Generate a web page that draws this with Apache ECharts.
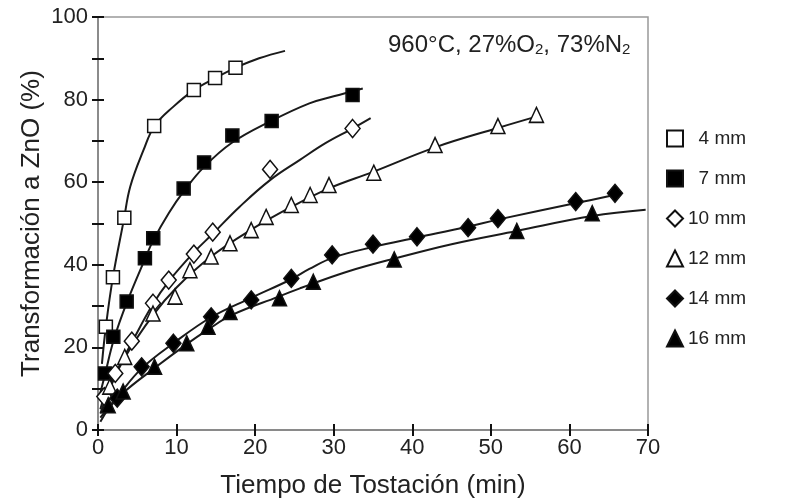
<!DOCTYPE html>
<html><head><meta charset="utf-8">
<script src="https://cdn.jsdelivr.net/npm/echarts@6/dist/echarts.min.js"></script>
<style>html,body{margin:0;padding:0;background:#fff}#c{width:812px;height:504px}</style>
</head><body><div id="c"></div>
<script>
// measured points [time (min), transformation (%)]
var pts4 = [[1,25],[1.9,37],[3.35,51.4],[7.15,73.6],[12.2,82.3],[14.9,85.2],[17.5,87.7]];
var pts7 = [[0.9,13.7],[1.95,22.6],[3.65,31.1],[5.97,41.6],[7.03,46.4],[10.9,58.5],[13.5,64.8],[17.1,71.3],[22.1,74.8],[32.4,81.1]];
var pts10 = [[0.8,8.1],[2.2,13.7],[4.3,21.5],[7.0,30.7],[9.0,36.3],[12.2,42.6],[14.6,47.9],[21.9,63.1],[32.4,73]];
var pts12 = [[1.5,10.5],[3.4,17.7],[7.0,28.2],[9.8,32.3],[11.7,38.7],[14.4,42],[16.8,45.2],[19.5,48.4],[21.4,51.6],[24.6,54.5],[27.0,56.9],[29.4,59.3],[35.1,62.3],[42.9,69],[50.9,73.6],[55.8,76.3]];
var pts14 = [[2.45,7.7],[5.55,15.3],[9.6,21],[14.4,27.4],[19.5,31.5],[24.6,36.7],[29.8,42.4],[35,45],[40.6,46.8],[47.1,49],[50.9,51.2],[60.8,55.3],[65.8,57.3]];
var pts16 = [[1.3,6],[3.2,9.3],[7.2,15.3],[11.3,21],[14.0,25],[16.8,28.6],[23.1,31.9],[27.4,35.9],[37.7,41.3],[53.3,48.2],[62.9,52.5]];
// fitted curves
var fit4 = [[0.5,16],[1,25],[1.9,37],[3.3,51],[4.1,58.9],[5.8,67.8],[7.2,73.6],[9.6,78.3],[12.2,82.3],[15,85.3],[17.5,87.7],[20.5,90],[23.8,91.8]];
var fit7 = [[0.3,9],[0.9,13.5],[2,21.8],[3.7,31],[6,41.5],[7,45.8],[9,52.5],[11,58],[13.5,63.7],[17,69.5],[22,74.8],[26.9,79.1],[30,80.8],[33.7,82.7]];
var fit10 = [[0.3,5],[0.8,8],[2.2,13.6],[4.3,21.2],[7,30.5],[9,36],[12.2,43],[14.6,47.5],[18,54],[21.9,60.5],[25.7,65.4],[29,69.5],[32.4,73],[34.7,75.5]];
var fit12 = [[0.3,4],[1.5,10],[3.4,17.5],[7,27.8],[10,34.5],[14.4,42],[19.5,48.5],[24.6,54],[29.4,58.5],[35,62.5],[43,68.5],[51,73.2],[56,76]];
var fit14 = [[0.3,3],[2.45,8],[5.5,14.8],[9.6,21],[14.4,27.3],[19.5,32],[24.6,36.5],[26.9,39],[30,41.8],[35,44.3],[40.6,46.6],[47,49.2],[51,51],[61,55],[66,57]];
var fit16 = [[0.3,2],[1.3,5],[3.2,9],[7.2,15],[11.3,20.8],[14,24.3],[17,27.8],[23,32.3],[25.7,34.3],[27.4,35.5],[32,38.5],[37.7,41.5],[45,45],[53.3,48.2],[62.9,51.8],[69.7,53.3]];
var names = ['4 mm','7 mm','10 mm','12 mm','14 mm','16 mm'];
var xTicks = [0,70,10];
var yTicks = [0,100,10];

var ptsAll = [pts4,pts7,pts10,pts12,pts14,pts16];
var fitAll = [fit4,fit7,fit10,fit12,fit14,fit16];
var sym = ['rect','rect','diamond','triangle','diamond','triangle'];
var fill = ['#fff','#000','#fff','#fff','#000','#000'];
var sz = [[13,13],[13,13],[15,18],[14,15],[15,18],[14,15]];
var series = [];
fitAll.forEach(function(d,i){
  series.push({type:'line',name:'fit'+i,data:d,smooth:0.4,symbol:'none',silent:true,
    lineStyle:{color:'#1a1a1a',width:2},z:2});
});
ptsAll.forEach(function(d,i){
  series.push({type:'scatter',name:names[i],data:d,symbol:sym[i],symbolSize:sz[i],
    itemStyle:{color:fill[i],borderColor:'#111',borderWidth:1.5,opacity:1},z:5});
});
var font = '"Liberation Sans", Arial, sans-serif';
function xa(inside,showLab){
  return {type:'value',min:xTicks[0],max:xTicks[1],interval:xTicks[2],position:'bottom',
    axisLine:{show:true,onZero:false,lineStyle:{color:'#888',width:1.5}},
    axisTick:{show:true,inside:inside,length:6,lineStyle:{color:'#111',width:2}},
    axisLabel:{show:showLab,fontSize:22,color:'#222',fontFamily:font,margin:7},
    splitLine:{show:false},
    name: showLab?'Tiempo de Tostación (min)':'',nameLocation:'middle',nameGap:43,nameMoveOverlap:false,
    nameTextStyle:{fontSize:26,color:'#222',fontFamily:font}};
}
function ya(inside,showLab){
  return {type:'value',min:yTicks[0],max:yTicks[1],interval:yTicks[2],position:'left',
    axisLine:{show:true,onZero:false,lineStyle:{color:'#888',width:1.5}},
    axisTick:{show:true,inside:inside,length:6,lineStyle:{color:'#111',width:2}},
    axisLabel:{show:showLab,fontSize:22,color:'#222',fontFamily:font,margin:10,
      formatter:function(v){return v%20===0?String(v):'';}},
    splitLine:{show:false},
    name: showLab?'Transformación a ZnO (%)':'',nameLocation:'middle',nameGap:53,nameMoveOverlap:false,
    nameTextStyle:{fontSize:26,color:'#222',fontFamily:font}};
}
var chart = echarts.init(document.getElementById('c'),null,{renderer:'canvas'});
chart.setOption({
  animation:false,
  backgroundColor:'#fff',
  grid:{left:98,right:164,top:17,bottom:74,show:true,borderColor:'#999',borderWidth:1.5,backgroundColor:'transparent'},
  xAxis:[xa(false,true),xa(true,false)],
  yAxis:[ya(false,true),ya(true,false)],
  legend:{data:names,orient:'vertical',left:661,top:124,itemGap:21,itemWidth:16,itemHeight:16,
    textStyle:{fontSize:19,color:'#222',fontFamily:font},
    formatter:function(n){return (n.length<5?'\u2007':'')+n;}},
  graphic:[{type:'text',left:388,top:33,style:{
    text:'960°C, 27%O{s|2}, 73%N{s|2}',fontSize:24,fill:'#222',fontFamily:font,
    rich:{s:{fontSize:15,fill:'#222',fontFamily:font,padding:[10,0,0,0]}}}}],
  series:series
});
</script></body></html>
